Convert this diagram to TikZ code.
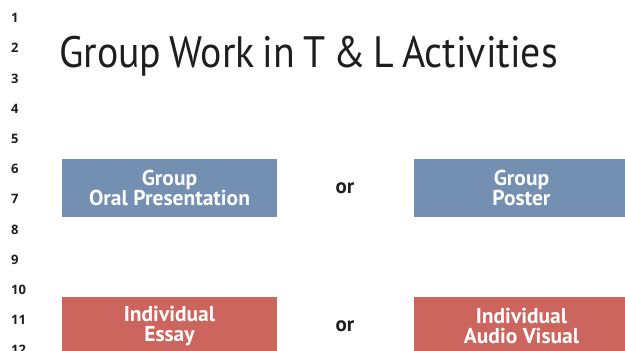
\documentclass[tikz,border=0pt]{standalone}
\usepackage{graphicx}
\usepackage{fontspec}
\setmainfont{PT Sans}
\newfontfamily\numfont{Open Sans}
\definecolor{grpblue}{RGB}{115,143,178}
\definecolor{indred}{RGB}{204,101,94}
\definecolor{ink}{RGB}{30,30,30}
\begin{document}
\begin{tikzpicture}[x=1pt,y=-1pt,
  linenum/.style={anchor=west,inner sep=0pt,font=\numfont\bfseries\fontsize{13}{15}\selectfont,text=ink},
  actbox/.style={minimum width=215pt,minimum height=58pt,inner sep=0pt,align=center,text=white,
     font=\bfseries\fontsize{21.5}{20}\selectfont},
  orlabel/.style={inner sep=0pt,font=\bfseries\fontsize{21}{20}\selectfont,text=ink}]
\useasboundingbox (0,0) rectangle (625,351);
\clip (0,0) rectangle (625,351);
\foreach \i in {1,...,12} {
  \node[linenum] (n\i) at (11,{18+30.2*(\i-1)}) {\i};
}
\node[anchor=base west,inner sep=0pt,text=ink,font=\fontsize{44}{48}\selectfont] (title) at (59,67) {\scalebox{0.905}[1]{\spaceskip=0.2em\relax Group Work in T \& L Activities}};
\node[actbox,fill=grpblue] (gop) at (169.5,188) {Group\\Oral Presentation};
\node[actbox,fill=grpblue] (gp) at (521.5,188) {Group\\Poster};
\node[orlabel] (or1) at (345,188) {or};
\node[actbox,fill=indred] (ie) at (169.5,326) {Individual\\Essay};
\node[actbox,fill=indred] (iav) at (521.5,326) {Individual\\Audio Visual};
\node[orlabel] (or2) at (345,326) {or};
\end{tikzpicture}
\end{document}
